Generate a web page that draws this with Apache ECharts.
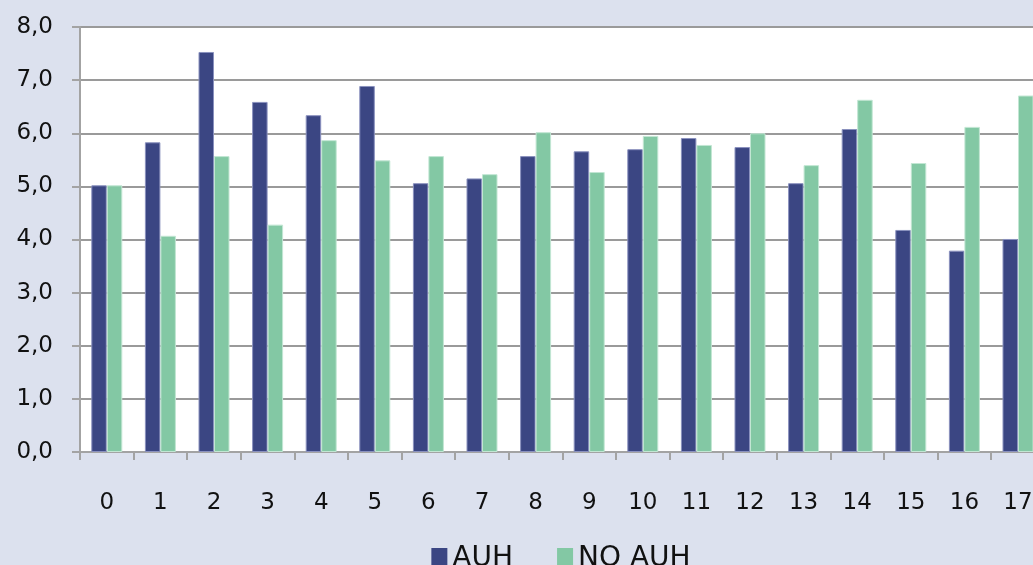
<!DOCTYPE html>
<html>
<head>
<meta charset="utf-8">
<script src="https://cdn.jsdelivr.net/npm/echarts@6/dist/echarts.min.js"></script>
<style>
  html, body { margin: 0; padding: 0; overflow: hidden; background: #DCE1EE; width: 1033px; height: 565px; }
  #chart { width: 1122px; height: 565px; }
</style>
</head>
<body>
<div id="chart"></div>
<script>
const categories = ['0','1','2','3','4','5','6','7','8','9','10','11','12','13','14','15','16','17'];
const auh   = [5.02, 5.83, 7.53, 6.59, 6.34, 6.89, 5.06, 5.15, 5.57, 5.66, 5.70, 5.91, 5.74, 5.06, 6.08, 4.18, 3.79, 4.01];
const noAuh = [5.02, 4.07, 5.57, 4.28, 5.87, 5.49, 5.57, 5.23, 6.02, 5.27, 5.95, 5.78, 6.00, 5.40, 6.63, 5.44, 6.12, 6.71];
const seriesNames = ['AUH', 'NO AUH'];
const yMin = 0, yMax = 8, yStep = 1;

const FONT = 'DejaVu Sans';
const chart = echarts.init(document.getElementById('chart'), null, { renderer: 'canvas' });
chart.setOption({
  backgroundColor: '#DCE1EE',
  animation: false,
  grid: { left: 80, top: 27, width: 964.8, height: 425, show: true, backgroundColor: '#FFFFFF', borderWidth: 0, outerBoundsMode: 'none' },
  legend: {
    data: seriesNames,
    left: 'center', top: 540,
    itemWidth: 16, itemHeight: 22, itemGap: 44,
    icon: 'rect',
    itemStyle: { borderWidth: 0 },
    textStyle: { fontFamily: FONT, fontSize: 28, color: '#111' }
  },
  xAxis: {
    type: 'category',
    data: categories,
    axisLine: { show: true, lineStyle: { color: '#A3A3A3', width: 2 } },
    axisTick: { show: true, length: 8, lineStyle: { color: '#A3A3A3', width: 2 } },
    axisLabel: { margin: 40, fontFamily: FONT, fontSize: 23, color: '#111' },
    splitLine: { show: false }
  },
  yAxis: {
    type: 'value',
    min: yMin, max: yMax, interval: yStep,
    axisLine: { show: true, lineStyle: { color: '#A3A3A3', width: 2 } },
    axisTick: { show: true, length: 8, lineStyle: { color: '#A3A3A3', width: 2 } },
    axisLabel: {
      margin: 27, fontFamily: FONT, fontSize: 23, color: '#111',
      formatter: v => v.toFixed(1).replace('.', ',')
    },
    splitLine: { show: true, lineStyle: { color: '#9A9A9A', width: 2 } }
  },
  series: [
    {
      name: seriesNames[0], type: 'bar', data: auh,
      barWidth: 15.5, barGap: '0%',
      itemStyle: { color: '#3B4683', borderColor: '#8A91BE', borderWidth: 1 }
    },
    {
      name: seriesNames[1], type: 'bar', data: noAuh,
      barWidth: 15.5, barGap: '0%',
      itemStyle: { color: '#83C8A4', borderColor: '#C2E6D3', borderWidth: 1 }
    }
  ]
});
</script>
</body>
</html>
